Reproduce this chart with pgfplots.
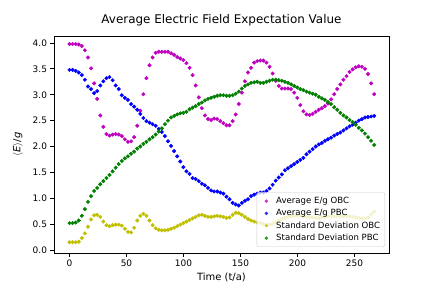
\documentclass[border=0pt]{standalone}
\usepackage{pgfplots}
\pgfplotsset{compat=1.18}
\usepackage{pgfplotstable}
\usepackage{fontspec}
\setmainfont{DejaVu Sans}
\definecolor{mplm}{rgb}{0.75,0,0.75}
\definecolor{mplb}{rgb}{0,0,1}
\definecolor{mply}{rgb}{0.75,0.75,0}
\definecolor{mplg}{rgb}{0,0.5,0}
\pgfplotstableread{
t obc pbc sobc spbc
0 3.98 3.48 0.15 0.52
2.7 3.98 3.48 0.15 0.52
5.4 3.98 3.46 0.15 0.53
8.1 3.97 3.43 0.16 0.57
10.8 3.94 3.38 0.23 0.66
13.5 3.86 3.29 0.32 0.79
16.2 3.72 3.16 0.45 0.93
18.9 3.51 3.11 0.59 1.04
21.6 3.22 3.03 0.67 1.14
24.3 2.92 3.07 0.68 1.20
27 2.60 3.18 0.64 1.27
29.7 2.38 3.26 0.55 1.33
32.4 2.24 3.32 0.48 1.39
35.1 2.21 3.34 0.46 1.45
37.8 2.23 3.28 0.48 1.52
40.5 2.24 3.18 0.49 1.59
43.2 2.23 3.11 0.49 1.66
45.9 2.20 2.99 0.47 1.72
48.6 2.14 2.94 0.41 1.77
51.3 2.09 2.90 0.35 1.81
54 2.10 2.82 0.34 1.86
56.7 2.18 2.77 0.43 1.90
59.4 2.40 2.71 0.57 1.96
62.1 2.69 2.63 0.66 2.00
64.8 3.01 2.55 0.70 2.05
67.5 3.32 2.49 0.66 2.09
70.2 3.57 2.46 0.57 2.14
72.9 3.72 2.43 0.48 2.18
75.6 3.81 2.40 0.42 2.23
78.3 3.83 2.34 0.39 2.29
81 3.83 2.28 0.38 2.35
83.7 3.83 2.20 0.38 2.43
86.4 3.83 2.10 0.39 2.50
89.1 3.80 2.01 0.41 2.56
91.8 3.77 1.91 0.43 2.59
94.5 3.73 1.81 0.46 2.62
97.2 3.70 1.71 0.49 2.64
99.9 3.67 1.60 0.52 2.65
102.6 3.61 1.52 0.55 2.67
105.3 3.52 1.47 0.58 2.72
108 3.38 1.39 0.61 2.75
110.7 3.18 1.37 0.64 2.78
113.4 2.95 1.33 0.67 2.82
116.1 2.74 1.28 0.68 2.85
118.8 2.60 1.25 0.66 2.89
121.5 2.53 1.20 0.64 2.92
124.2 2.51 1.15 0.64 2.94
126.9 2.54 1.13 0.65 2.96
129.6 2.53 1.13 0.66 2.98
132.3 2.49 1.11 0.65 2.99
135 2.45 1.09 0.64 2.99
137.7 2.41 1.03 0.62 2.98
140.4 2.41 0.98 0.63 2.98
143.1 2.49 0.91 0.68 2.99
145.8 2.62 0.88 0.72 3.02
148.5 2.82 0.86 0.71 3.06
151.2 3.04 0.91 0.68 3.12
153.9 3.26 0.95 0.64 3.17
156.6 3.43 0.98 0.60 3.20
159.3 3.52 1.04 0.57 3.23
162 3.62 1.07 0.55 3.24
164.7 3.65 1.09 0.53 3.25
167.4 3.66 1.11 0.52 3.23
170.1 3.66 1.11 0.50 3.23
172.8 3.62 1.14 0.49 3.25
175.5 3.54 1.19 0.49 3.27
178.2 3.41 1.26 0.51 3.29
180.9 3.27 1.34 0.54 3.29
183.6 3.17 1.40 0.57 3.28
186.3 3.12 1.46 0.60 3.27
189 3.12 1.54 0.62 3.25
191.7 3.12 1.58 0.64 3.23
194.4 3.11 1.62 0.65 3.20
197.1 3.04 1.66 0.66 3.17
199.8 2.94 1.70 0.66 3.14
202.5 2.80 1.74 0.66 3.11
205.2 2.68 1.78 0.65 3.09
207.9 2.62 1.85 0.64 3.06
210.6 2.61 1.90 0.63 3.04
213.3 2.63 1.95 0.63 3.02
216 2.67 2.00 0.62 3.00
218.7 2.71 2.04 0.62 2.96
221.4 2.74 2.07 0.63 2.93
224.1 2.78 2.11 0.64 2.90
226.8 2.83 2.14 0.65 2.86
229.5 2.91 2.17 0.65 2.82
232.2 3.01 2.21 0.65 2.76
234.9 3.11 2.24 0.65 2.71
237.6 3.20 2.27 0.65 2.65
240.3 3.29 2.31 0.65 2.60
243 3.36 2.35 0.65 2.56
245.7 3.44 2.39 0.65 2.51
248.4 3.49 2.42 0.64 2.47
251.1 3.53 2.46 0.63 2.42
253.8 3.55 2.50 0.62 2.36
256.5 3.54 2.53 0.61 2.31
259.2 3.50 2.56 0.61 2.25
261.9 3.40 2.57 0.63 2.18
264.6 3.22 2.58 0.69 2.11
267.3 3.01 2.59 0.74 2.03
}\datatable
\begin{document}
\begin{tikzpicture}
\useasboundingbox (0,0) rectangle (432bp,288bp);
\begin{axis}[
  at={(54bp,35bp)}, anchor=south west,
  scale only axis, width=335bp, height=217bp,
  xmin=-13.6, xmax=280.3, ymin=-0.058, ymax=4.135,
  xtick={0,50,100,150,200,250},
  ytick={0,0.5,1,1.5,2,2.5,3,3.5,4},
  /pgf/number format/assume math mode=true,
  yticklabel style={/pgf/number format/.cd, fixed, fixed zerofill, precision=1},
  tick pos=left, tick align=outside, major tick length=3.5bp,
  tick style={black, line width=0.8bp},
  axis line style={line width=0.8bp, black},
  ticklabel style={font=\fontsize{9}{10}\selectfont},
  title={Average Electric Field Expectation Value},
  title style={font=\fontsize{12}{14}\selectfont, at={(axis description cs:0.5,1.03)}, anchor=base},
  xlabel={Time (t/a)},
  ylabel={\(\langle\)\textit{E}\(\rangle\)/\textit{g}},
  label style={font=\fontsize{10}{12}\selectfont},
  xlabel style={at={(axis description cs:0.5,-0.127)}, anchor=base},
  ylabel style={at={(axis description cs:-0.1075,0.5)}, anchor=center},
  legend style={at={(axis description cs:1,0)}, anchor=south east, xshift=-4bp, yshift=6bp,
    font=\fontsize{8.6}{9.5}\selectfont, fill=white, fill opacity=0.8, text opacity=1,
    draw=black!20, rounded corners=2bp, inner sep=2.5bp,
    nodes={inner sep=2.2bp}},
  legend cell align=left,
]
\addplot[only marks, mark=*, mark size=1.8bp, color=mplm, mark options={draw=mplm, fill=mplm},
  legend image code/.code={\path[draw=none,fill=none] (-0.1cm,0) -- (0.42cm,0); \fill[mplm, draw=none] (0.15cm,0) circle (1.8bp);}]
  table[x=t, y=obc] {\datatable};
\addlegendentry{Average E/g OBC}
\addplot[only marks, mark=*, mark size=1.8bp, color=mplb, mark options={draw=mplb, fill=mplb},
  legend image code/.code={\path[draw=none,fill=none] (-0.1cm,0) -- (0.42cm,0); \fill[mplb, draw=none] (0.15cm,0) circle (1.8bp);}]
  table[x=t, y=pbc] {\datatable};
\addlegendentry{Average E/g PBC}
\addplot[only marks, mark=*, mark size=1.8bp, color=mply, mark options={draw=mply, fill=mply},
  legend image code/.code={\path[draw=none,fill=none] (-0.1cm,0) -- (0.42cm,0); \fill[mply, draw=none] (0.15cm,0) circle (1.8bp);}]
  table[x=t, y=sobc] {\datatable};
\addlegendentry{Standard Deviation OBC}
\addplot[only marks, mark=*, mark size=1.8bp, color=mplg, mark options={draw=mplg, fill=mplg},
  legend image code/.code={\path[draw=none,fill=none] (-0.1cm,0) -- (0.42cm,0); \fill[mplg, draw=none] (0.15cm,0) circle (1.8bp);}]
  table[x=t, y=spbc] {\datatable};
\addlegendentry{Standard Deviation PBC}
\end{axis}
\end{tikzpicture}
\end{document}
